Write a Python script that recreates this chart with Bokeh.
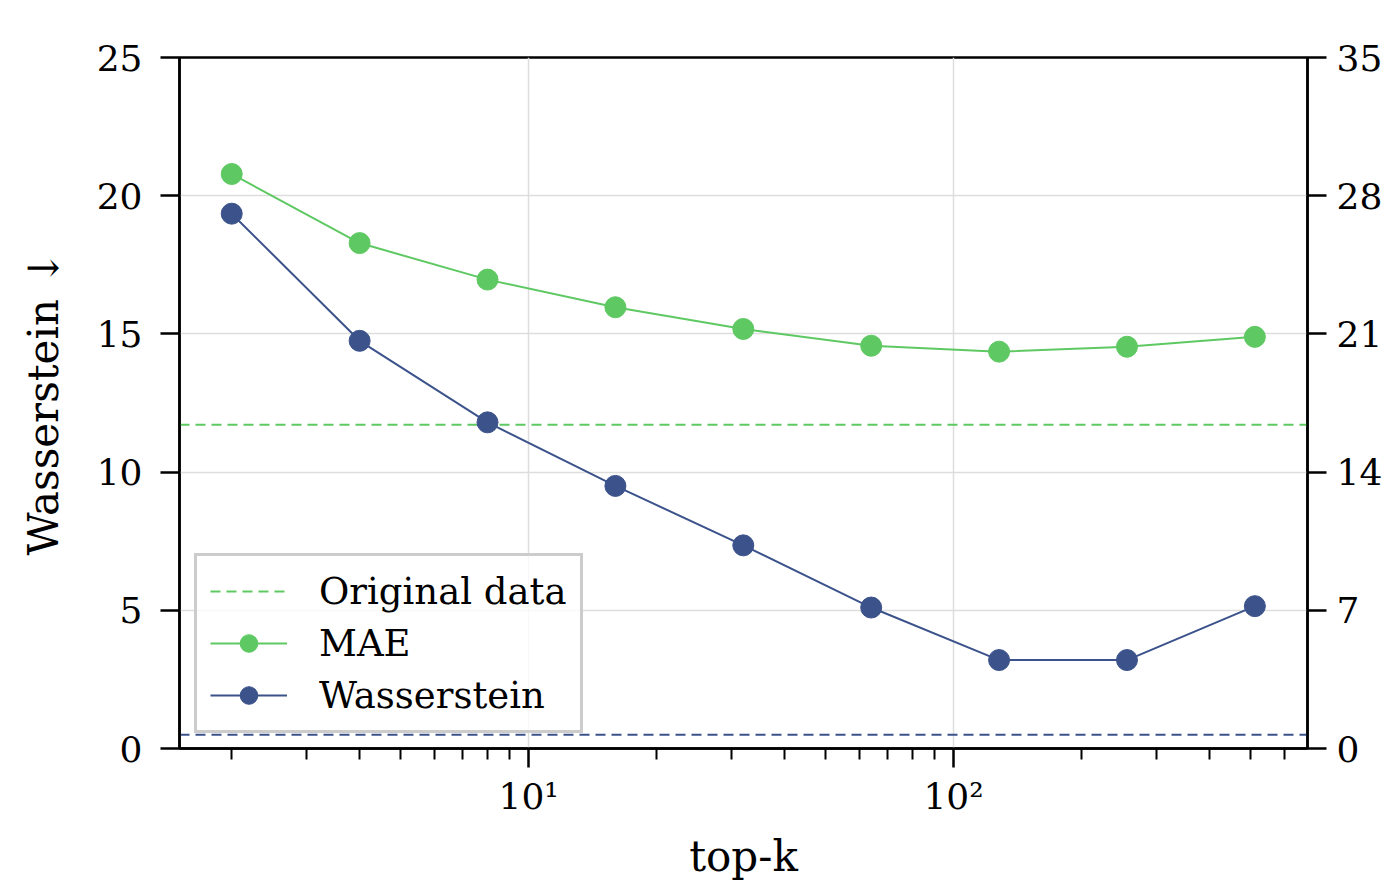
from bokeh.plotting import figure
from bokeh.models import Range1d, LinearAxis, FixedTicker, Legend, LegendItem
from bokeh.embed import file_html
from bokeh.resources import INLINE

# ---- data ----
top_k = [2, 4, 8, 16, 32, 64, 128, 256, 512]
wasserstein = [19.35, 14.75, 11.8, 9.5, 7.35, 5.1, 3.2, 3.2, 5.15]
mae = [29.1, 25.6, 23.75, 22.35, 21.25, 20.4, 20.1, 20.35, 20.85]
orig_mae = 16.4
orig_wass = 0.5

left_ticks = [0, 5, 10, 15, 20, 25]
right_ticks = [0, 7, 14, 21, 28, 35]
x_major = [10, 100]
x_major_labels = {10: "10\u00b9", 100: "10\u00b2"}
x_minor = [2, 3, 4, 5, 6, 7, 8, 9, 20, 30, 40, 50, 60, 70, 80, 90,
           200, 300, 400, 500, 600]
x_lo, x_hi = 1.507, 681.0
left_lim = (0, 25)
right_lim = (0, 35)

GREEN = "#5ec962"
BLUE = "#3b528b"
FONT = "DejaVu Serif"

p = figure(width=1385, height=883, x_axis_type="log",
           x_range=Range1d(x_lo, x_hi), y_range=Range1d(*left_lim),
           output_backend="svg", toolbar_location=None,
           min_border_left=179, min_border_top=57, min_border_bottom=133,
           min_border_right=4)
p.extra_y_ranges = {"right": Range1d(*right_lim)}

p.background_fill_color = "white"
p.border_fill_color = "white"
p.outline_line_color = "black"
p.outline_line_width = 2.5
p.outline_line_alpha = 1

# axes
p.xaxis.ticker = FixedTicker(ticks=x_major, minor_ticks=x_minor)
p.xaxis.major_label_overrides = x_major_labels
p.yaxis.ticker = FixedTicker(ticks=left_ticks)

right_axis = LinearAxis(y_range_name="right", ticker=FixedTicker(ticks=right_ticks))
p.add_layout(right_axis, "right")

for ax in [p.xaxis[0], p.yaxis[0], right_axis]:
    ax.axis_line_color = "black"
    ax.axis_line_width = 2.5
    ax.major_tick_line_color = "black"
    ax.major_tick_line_width = 2.5
    ax.major_tick_out = 19
    ax.major_tick_in = 0
    ax.minor_tick_line_color = "black"
    ax.minor_tick_line_width = 2
    ax.minor_tick_out = 11
    ax.minor_tick_in = 0
    ax.major_label_text_font = FONT
    ax.major_label_text_font_size = "36px"
    ax.major_label_text_color = "black"
    ax.axis_label_text_font = FONT
    ax.axis_label_text_font_size = "42px"
    ax.axis_label_text_font_style = "normal"
    ax.axis_label_text_color = "black"

p.yaxis[0].minor_tick_out = 0
right_axis.minor_tick_out = 0
p.yaxis[0].major_label_standoff = 18
right_axis.major_label_standoff = 10
p.xaxis[0].major_label_standoff = 8

p.xaxis[0].axis_label = "top-k"
p.xaxis[0].axis_label_standoff = 12
p.yaxis[0].axis_label = "Wasserstein \u2193"
p.yaxis[0].axis_label_standoff = 26

# grid
p.xgrid.grid_line_color = "#dddddd"
p.xgrid.grid_line_width = 1.5
p.ygrid.grid_line_color = "#dddddd"
p.ygrid.grid_line_width = 1.5
p.ygrid.ticker = FixedTicker(ticks=left_ticks)

# original data reference lines
orig_line = p.line([x_lo, x_hi], [orig_mae, orig_mae], y_range_name="right",
                   line_color=GREEN, line_width=2, line_dash="10 6")
p.line([x_lo, x_hi], [orig_wass, orig_wass],
       line_color=BLUE, line_width=2, line_dash="10 6")

# series
mae_line = p.line(top_k, mae, y_range_name="right", line_color=GREEN, line_width=2)
mae_pts = p.scatter(top_k, mae, y_range_name="right", size=21,
                    fill_color=GREEN, line_color=GREEN)
w_line = p.line(top_k, wasserstein, line_color=BLUE, line_width=2)
w_pts = p.scatter(top_k, wasserstein, size=21, fill_color=BLUE, line_color=BLUE)

legend = Legend(items=[
    LegendItem(label="Original data", renderers=[orig_line]),
    LegendItem(label="MAE", renderers=[mae_line, mae_pts]),
    LegendItem(label="Wasserstein", renderers=[w_line, w_pts]),
], location="bottom_left")
legend.margin = 15
legend.padding = 13
legend.spacing = 8
legend.label_text_font = FONT
legend.label_text_font_size = "37px"
legend.label_text_color = "black"
legend.glyph_width = 77
legend.glyph_height = 44
legend.label_height = 40
legend.label_standoff = 32
legend.border_line_color = "#cccccc"
legend.border_line_width = 3.5
legend.border_line_alpha = 1
legend.background_fill_color = "white"
legend.background_fill_alpha = 0.8
p.add_layout(legend)

open("out.html", "w").write(file_html(p, INLINE))
